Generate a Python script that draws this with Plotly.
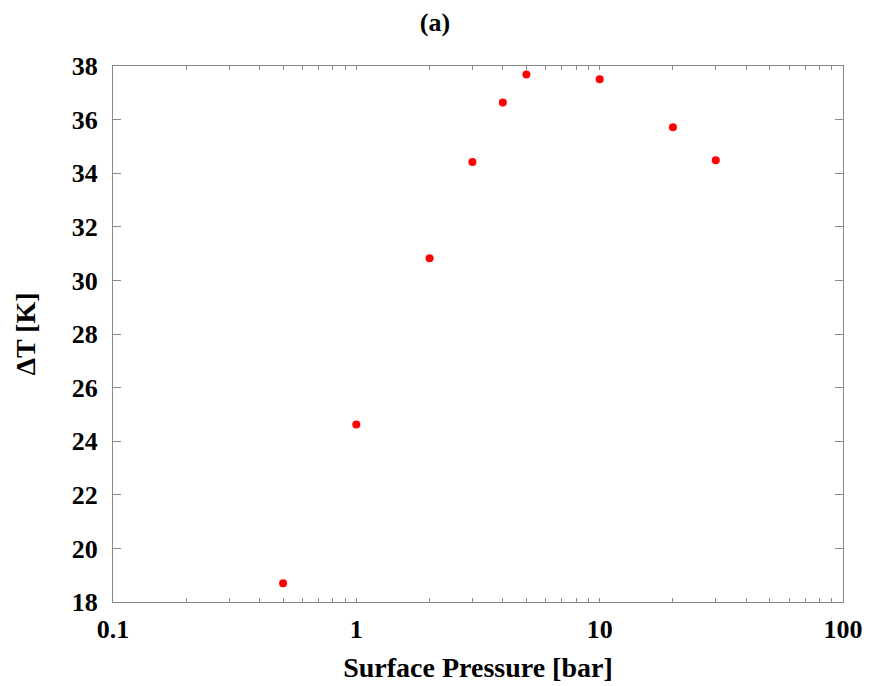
import plotly.graph_objects as go

pressure = [0.5, 1, 2, 3, 4, 5, 10, 20, 30]
delta_t = [18.7, 24.62, 30.83, 34.42, 36.64, 37.68, 37.51, 35.71, 34.48]
y_ticks = [18, 20, 22, 24, 26, 28, 30, 32, 34, 36, 38]
x_ticks = [0.1, 1, 10, 100]
x_tick_labels = ["0.1", "1", "10", "100"]

font_family = "Liberation Serif"

# page body has an 8px default margin, so the figure is sized to fit the window
W, H = 863, 678

fig = go.Figure()
fig.add_trace(go.Scatter(
    x=pressure, y=delta_t, mode="markers",
    marker=dict(color="#ff0000", size=8, line=dict(width=0)),
    showlegend=False,
))

fig.update_layout(
    width=W, height=H,
    paper_bgcolor="white", plot_bgcolor="white",
    margin=dict(l=105, r=28, t=58, b=84),
    title=dict(text="<b>(a)</b>", x=(435 - 8) / W, xanchor="center", y=1 - 14 / H, yanchor="middle",
               font=dict(family=font_family, size=26, color="black")),
    font=dict(family=font_family, color="black"),
)

fig.update_xaxes(
    type="log", range=[-1, 2], automargin=False,
    tickvals=x_ticks, ticktext=["<b>%s</b>" % t for t in x_tick_labels],
    tickfont=dict(family=font_family, size=26, color="black"),
    ticks="inside", ticklen=4, tickcolor="#888888", tickwidth=1,
    ticklabelstandoff=4,
    minor=dict(ticks="inside", ticklen=4, tickcolor="#888888", tickwidth=1,
               tickvals=[m * d for d in [0.1, 1, 10] for m in range(2, 10)]),
    showline=True, linecolor="#888888", linewidth=1, mirror="ticks",
    showgrid=False, zeroline=False,
    title=dict(text="<b>Surface Pressure [bar]</b>", standoff=14,
               font=dict(family=font_family, size=28, color="black")),
)

fig.update_yaxes(
    range=[18, 38], automargin=False,
    tickvals=y_ticks, ticktext=["<b>%d</b>" % v for v in y_ticks],
    tickfont=dict(family=font_family, size=26, color="black"),
    ticks="inside", ticklen=8, tickcolor="#888888", tickwidth=1,
    ticklabelstandoff=9,
    showline=True, linecolor="#888888", linewidth=1, mirror="ticks",
    showgrid=False, zeroline=False,
    title=dict(text="<b>ΔT [K]</b>", standoff=27,
               font=dict(family=font_family, size=28, color="black")),
)

fig.write_html("out.html")
